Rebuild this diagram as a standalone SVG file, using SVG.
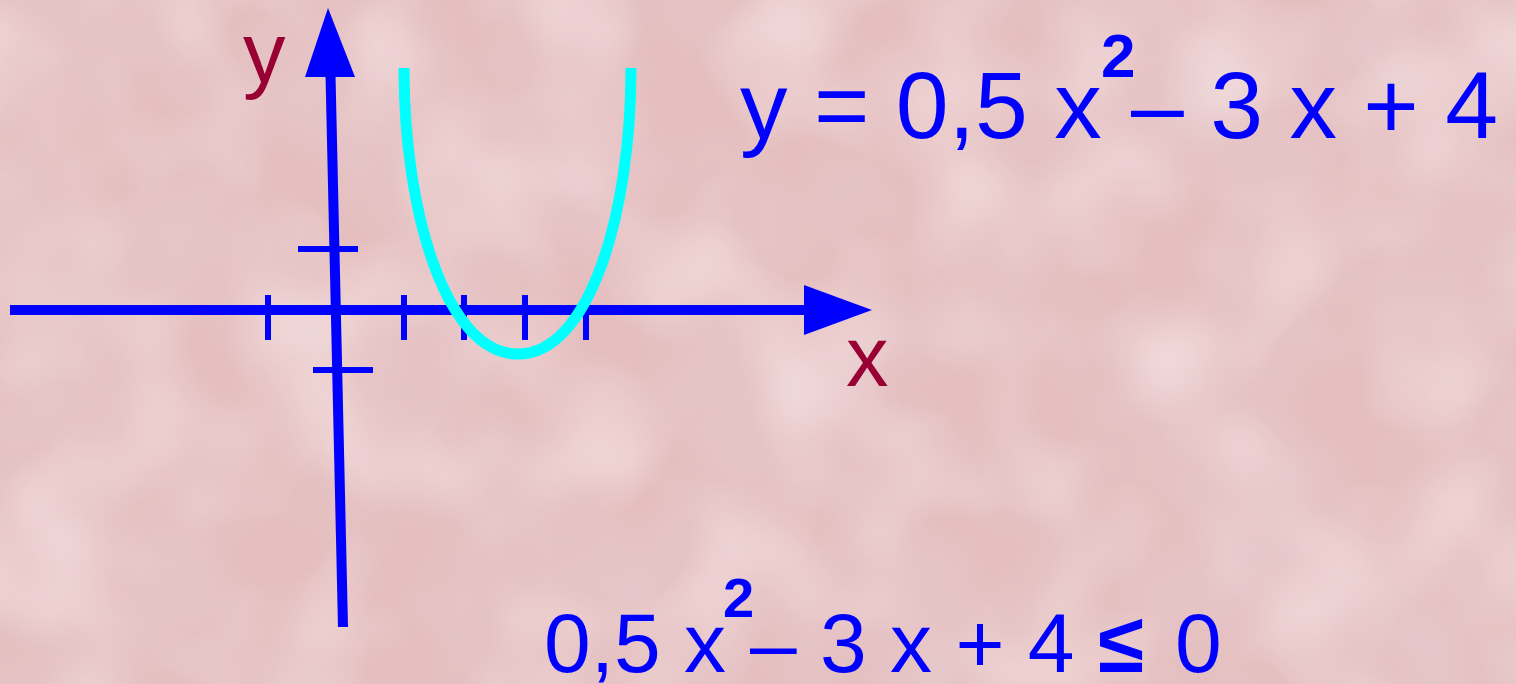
<svg xmlns="http://www.w3.org/2000/svg" width="1516" height="684" viewBox="0 0 1516 684">
  <style>
    .axis { stroke: #0000ff; stroke-width: 10; fill: none; }
    .tick { stroke: #0000ff; stroke-width: 6; fill: none; }
    .head { fill: #0000ff; }
    .curve { stroke: #00ffff; stroke-width: 11; fill: none; }
    .lbl { font-family: "Liberation Sans", Arial, sans-serif; fill: #990033; font-size: 85px; }
    .eq { font-family: "Liberation Sans", Arial, sans-serif; fill: #0000ff; }
    .sup { font-weight: bold; }
  </style>
  <defs>
    <filter id="tex" x="0" y="0" width="100%" height="100%">
      <feTurbulence type="fractalNoise" baseFrequency="0.006" numOctaves="3" seed="7" result="n"/>
      <feColorMatrix in="n" type="matrix" values="0 0 0 0 0.80  0 0 0 0 0.60  0 0 0 0 0.62  1.4 0 0 0 -0.55"/>
    </filter>
    <filter id="tex2" x="0" y="0" width="100%" height="100%">
      <feTurbulence type="fractalNoise" baseFrequency="0.008" numOctaves="2" seed="21" result="n"/>
      <feColorMatrix in="n" type="matrix" values="0 0 0 0 0.96  0 0 0 0 0.84  0 0 0 0 0.84  1.2 0 0 0 -0.5"/>
    </filter>
  </defs>

  <g id="background">
    <rect x="0" y="0" width="1516" height="684" fill="#e5bfc0"/>
    <rect x="0" y="0" width="1516" height="684" filter="url(#tex)"/>
    <rect x="0" y="0" width="1516" height="684" filter="url(#tex2)"/>
  </g>

  <g id="x-axis">
    <line class="axis" x1="10" y1="310" x2="806" y2="310"/>
    <polygon class="head" points="804,285 872,310 804,335"/>
    <line class="tick" x1="268" y1="295" x2="268" y2="340"/>
    <line class="tick" x1="404" y1="295" x2="404" y2="340"/>
    <line class="tick" x1="464" y1="295" x2="464" y2="340"/>
    <line class="tick" x1="525" y1="295" x2="525" y2="340"/>
    <line class="tick" x1="586" y1="295" x2="586" y2="340"/>
  </g>

  <g id="y-axis">
    <line class="axis" x1="330.5" y1="75" x2="343" y2="627"/>
    <polygon class="head" points="305,77 328,8 355,77"/>
    <line class="tick" x1="298" y1="249" x2="358" y2="249"/>
    <line class="tick" x1="313" y1="370" x2="373" y2="370"/>
  </g>

  <g id="parabola">
    <path class="curve" d="M404,68 C404,218 448,354 518,354 C588,354 631,218 631,68"/>
  </g>

  <g id="axis-labels">
    <text class="lbl" x="243" y="82">y</text>
    <text class="lbl" x="846" y="386">x</text>
  </g>

  <g id="equation">
    <text class="eq" x="740" y="138" font-size="95">y = 0,5 x</text>
    <text class="eq sup" x="1101" y="77" font-size="62">2</text>
    <text class="eq" x="1131" y="138" font-size="95">– 3 x + 4</text>
  </g>

  <g id="inequality">
    <text class="eq" x="544" y="672" font-size="84">0,5 x</text>
    <text class="eq sup" x="723" y="617" font-size="56">2</text>
    <text class="eq" x="750" y="672" font-size="84">– 3 x + 4 <tspan font-weight="bold">≤</tspan><tspan x="1175">0</tspan></text>
  </g>
</svg>
